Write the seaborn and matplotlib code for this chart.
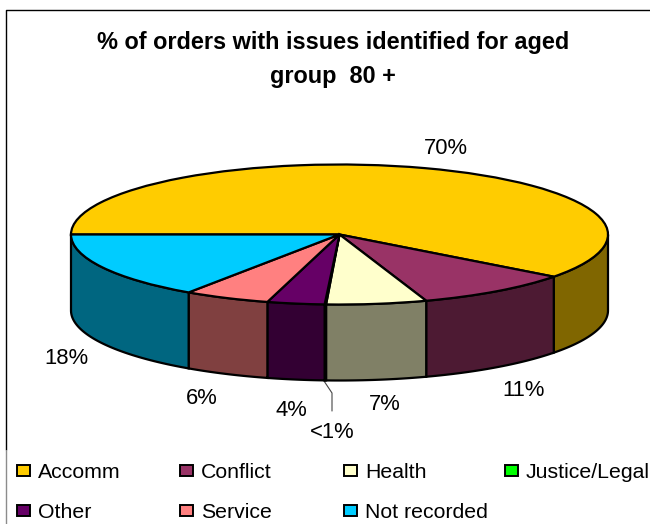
import numpy as np
import matplotlib
matplotlib.use("Agg")
import matplotlib.pyplot as plt
from matplotlib.patches import Polygon, Rectangle
import seaborn as sns

# Order counts as printed on the chart (they are shown as rounded shares)
categories = ["Accomm", "Conflict", "Health", "Justice/Legal", "Other", "Service", "Not recorded"]
values = [70, 11, 7, 0.1, 4, 6, 18]
value_labels = ["70%", "11%", "7%", "<1%", "4%", "6%", "18%"]
top_colors = ["#FFCC00", "#993366", "#FFFFCC", "#00FF00", "#660066", "#FF8080", "#00CCFF"]
wall_colors = ["#806600", "#4D1A33", "#808066", "#008000", "#330033", "#804040", "#006680"]
label_px = [(446, 149), (524, 391), (385, 404), (332, 432), (291, 411), (202, 398), (66, 358)]
title_lines = ["% of orders with issues identified for aged", "group  80 +"]

W, H = 650, 524
CX, CY = 339.5, 234.5
RX, RY, DEPTH = 268.5, 70.0, 76.0

sns.set_theme(style="white")
plt.rcParams["font.family"] = ["Liberation Sans", "DejaVu Sans"]

fig = plt.figure(figsize=(W / 100, H / 100), dpi=100, facecolor="white")
ax = fig.add_axes([0, 0, 1, 1])


def to_x(px):
    return (px - CX) / RX


def to_y(py):
    return (CY - py) / RY


# Top face of the disc: a unit pie stretched by the axis limits into an ellipse
wedges, _ = ax.pie(
    values,
    colors=sns.color_palette(top_colors),
    startangle=180,
    counterclock=False,
    radius=1,
    frame=True,
    wedgeprops=dict(edgecolor="black", linewidth=1.6, zorder=3),
)
ax.set_aspect("auto")
ax.set_xlim(to_x(0), to_x(W))
ax.set_ylim(to_y(H), to_y(0))
ax.set_xticks([])
ax.set_yticks([])
for spine in ax.spines.values():
    spine.set_visible(False)

# Side wall of every slice, limited to the front half of the disc
drop = DEPTH / RY
for wedge, wall in zip(wedges, wall_colors):
    start, stop = max(wedge.theta1, -180), min(wedge.theta2, 0)
    if stop <= start:
        continue
    t = np.radians(np.linspace(start, stop, 60))
    upper = np.column_stack([np.cos(t), np.sin(t)])
    lower = upper[::-1] - [0, drop]
    ax.add_patch(Polygon(np.vstack([upper, lower]), closed=True, facecolor=wall,
                         edgecolor="black", linewidth=1.6, zorder=2))

# Value labels, with a leader line for the near-empty slice
for text, (px, py) in zip(value_labels, label_px):
    ax.text(to_x(px), to_y(py), text, ha="center", va="center", fontsize=15.8, color="black")
ax.plot([to_x(324), to_x(332), to_x(332)], [to_y(381), to_y(393), to_y(411)],
        color="#444444", linewidth=0.8, zorder=1)

# Title
for line, py in zip(title_lines, (42, 76)):
    ax.text(to_x(333), to_y(py), line, ha="center", va="center",
            fontsize=16.9, fontweight="bold", color="black")

# Chart border: open on the right and bottom, fading to grey beside the legend
ax.plot([to_x(5.5), to_x(5.5), to_x(W)], [to_y(450), to_y(9.5), to_y(9.5)],
        color="black", linewidth=1.0, solid_capstyle="butt")
ax.plot([to_x(5.5), to_x(5.5)], [to_y(450), to_y(H)], color="#8C8C8C", linewidth=1.0,
        solid_capstyle="butt")

# Legend laid out in four columns, running right up to the figure edge
column_x = [17, 180, 344, 505]
row_y = [470, 510]
for i, (name, color) in enumerate(zip(categories, top_colors)):
    x0 = column_x[i if i < 4 else i - 4]
    y0 = row_y[0 if i < 4 else 1]
    ax.add_patch(Rectangle((to_x(x0), to_y(y0 + 5.5)), 13 / RX, 11 / RY, facecolor=color,
                           edgecolor="black", linewidth=1.4, zorder=4))
    ax.text(to_x(x0 + 21), to_y(y0 + 2), name, ha="left", va="center", fontsize=15.3, color="black")

fig.savefig("out.png", dpi=100)
